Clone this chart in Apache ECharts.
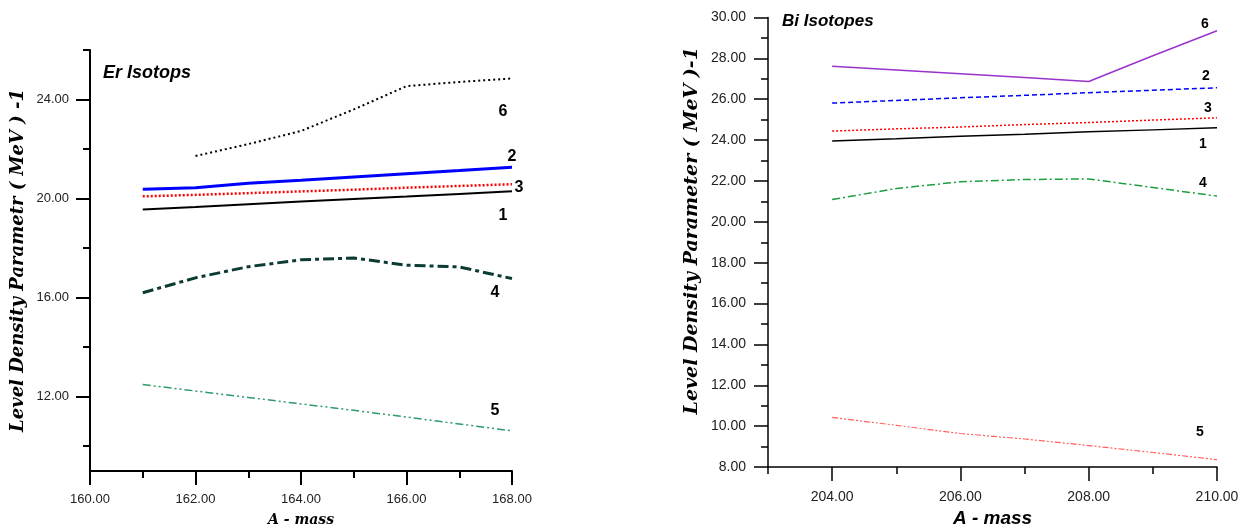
<!DOCTYPE html>
<html><head><meta charset="utf-8">
<script src="https://cdn.jsdelivr.net/npm/echarts@6/dist/echarts.min.js"></script>
<style>html,body{margin:0;padding:0;background:#fff}#c{width:1244px;height:530px}</style>
</head><body><div id="c"></div>
<script>
// ---- Er isotopes (left panel) ----
const erMass = [161, 162, 163, 164, 165, 166, 167, 168];
const er1 = [19.56, 19.66, 19.77, 19.88, 19.98, 20.08, 20.19, 20.30];
const er2 = [20.38, 20.44, 20.62, 20.74, 20.87, 21.00, 21.13, 21.27];
const er3 = [20.09, 20.15, 20.22, 20.29, 20.36, 20.44, 20.51, 20.58];
const er4 = [16.20, 16.80, 17.25, 17.53, 17.60, 17.31, 17.24, 16.77];
const er5 = [12.49, 12.23, 11.97, 11.71, 11.45, 11.18, 10.90, 10.62];
const er6 = [null, 21.72, 22.20, 22.73, 23.60, 24.54, 24.71, 24.85];
const erXLabels = [160, 162, 164, 166, 168];
const erXMinor = [161, 163, 165, 167];
const erYLabels = [12, 16, 20, 24];
const erYMinor = [10, 14, 18, 22, 26];

// ---- Bi isotopes (right panel) ----
const biMass = [204, 205, 206, 207, 208, 209, 210];
const bi1 = [23.96, 24.07, 24.19, 24.29, 24.41, 24.50, 24.60];
const bi2 = [25.81, 25.94, 26.07, 26.19, 26.32, 26.44, 26.56];
const bi3 = [24.44, 24.55, 24.64, 24.76, 24.86, 24.98, 25.09];
const bi4 = [21.09, 21.63, 21.96, 22.07, 22.10, 21.68, 21.26];
const bi5 = [10.43, 10.04, 9.64, 9.37, 9.05, 8.71, 8.36];
const bi6 = [27.62, 27.43, 27.25, 27.06, 26.87, 28.13, 29.35];
const biXLabels = [204, 206, 208, 210];
const biXMinor = [203, 205, 207, 209];
const biYLabels = [8, 10, 12, 14, 16, 18, 20, 22, 24, 26, 28, 30];
const biYMinor = [9, 11, 13, 15, 17, 19, 21, 23, 25, 27, 29];

const pairs = (xs, ys) => xs.map((x, i) => [x, ys[i]]);
const fmt2 = v => Number(v).toFixed(2);
const sans = 'Liberation Sans, Arial, sans-serif';
const serif = 'DejaVu Serif, serif';

function mkSeries(name, xs, ys, xi, yi, color, width, type, off, fs) {
  return {
    type: 'line', name: name, xAxisIndex: xi, yAxisIndex: yi,
    data: pairs(xs, ys), symbol: 'none', showSymbol: false, connectNulls: false,
    lineStyle: { color: color, width: width, type: type },
    itemStyle: { color: color },
    endLabel: {
      show: true, formatter: name, distance: 0, offset: off,
      align: 'center', verticalAlign: 'middle',
      color: '#000', fontFamily: sans, fontWeight: 'bold', fontSize: fs
    },
    z: 3
  };
}

function mainX(grid, min, max, labels, lw, fs, margin, nameFont, nameSize, gap) {
  return {
    type: 'value', gridIndex: grid, min: min, max: max, position: 'bottom',
    axisLine: { show: true, onZero: false, lineStyle: { color: '#000', width: lw } },
    axisTick: { show: true, customValues: labels, length: 14, lineStyle: { color: '#000', width: lw } },
    axisLabel: { show: true, customValues: labels, formatter: fmt2, margin: margin, fontSize: fs, color: '#222', fontFamily: sans },
    splitLine: { show: false },
    name: 'A - mass', nameLocation: 'middle', nameGap: gap,
    nameTextStyle: { fontFamily: nameFont, fontStyle: 'italic', fontWeight: 'bold', fontSize: nameSize, color: '#000' }
  };
}
function minorX(grid, min, max, ticks, lw) {
  return {
    type: 'value', gridIndex: grid, min: min, max: max, position: 'bottom',
    axisLine: { show: false, onZero: false },
    axisTick: { show: true, customValues: ticks, length: 7, lineStyle: { color: '#000', width: lw } },
    axisLabel: { show: false }, splitLine: { show: false }
  };
}
function mainY(grid, min, max, labels, lw, fs, margin, name, nameSize, gap, pad) {
  return {
    type: 'value', gridIndex: grid, min: min, max: max, position: 'left',
    axisLine: { show: true, onZero: false, lineStyle: { color: '#000', width: lw } },
    axisTick: { show: true, customValues: labels, length: 14, lineStyle: { color: '#000', width: lw } },
    axisLabel: { show: true, customValues: labels, formatter: fmt2, margin: margin, fontSize: fs, color: '#222', fontFamily: sans },
    splitLine: { show: false },
    name: name, nameLocation: 'middle', nameGap: gap,
    nameTextStyle: { fontFamily: serif, fontStyle: 'italic', fontWeight: 'bold', fontSize: nameSize, color: '#000', padding: pad }
  };
}
function minorY(grid, min, max, ticks, lw) {
  return {
    type: 'value', gridIndex: grid, min: min, max: max, position: 'left',
    axisLine: { show: false, onZero: false },
    axisTick: { show: true, customValues: ticks, length: 7, lineStyle: { color: '#000', width: lw } },
    axisLabel: { show: false }, splitLine: { show: false }
  };
}

const chart = echarts.init(document.getElementById('c'), null, { renderer: 'canvas' });
chart.setOption({
  backgroundColor: '#fff',
  animation: false,
  title: [
    { text: 'Er Isotops', left: 103, top: 64, padding: 0,
      textStyle: { fontFamily: sans, fontStyle: 'italic', fontWeight: 'bold', fontSize: 18, color: '#000' } },
    { text: 'Bi Isotopes', left: 782, top: 13, padding: 0,
      textStyle: { fontFamily: sans, fontStyle: 'italic', fontWeight: 'bold', fontSize: 17, color: '#000' } }
  ],
  grid: [
    { left: 90, right: 732, top: 50, bottom: 59, outerBoundsMode: 'none', containLabel: false },
    { left: 768, right: 27, top: 17.5, bottom: 63, outerBoundsMode: 'none', containLabel: false }
  ],
  xAxis: [
    mainX(0, 160, 168, erXLabels, 2, 13, 22, serif, 14, 42),
    minorX(0, 160, 168, erXMinor, 2),
    mainX(1, 203, 210, biXLabels, 1.5, 14, 23, sans, 19, 42),
    minorX(1, 203, 210, biXMinor, 1.5)
  ],
  yAxis: [
    mainY(0, 9, 26, erYLabels, 2, 13, 21, 'Level Density Parametr ( MeV ) -1', 18, 63, [0, 0, 0, 0]),
    minorY(0, 9, 26, erYMinor, 2),
    mainY(1, 8, 30, biYLabels, 1.5, 14, 22, 'Level Density Parameter ( MeV )-1', 19, 66, [0, 0, 0, 23]),
    minorY(1, 8, 30, biYMinor, 1.5)
  ],
  series: [
    mkSeries('6', erMass, er6, 0, 0, '#000000', 2, [2, 3], [-9, 33], 16),
    mkSeries('2', erMass, er2, 0, 0, '#0000ff', 3, 'solid', [0, -11], 16),
    mkSeries('3', erMass, er3, 0, 0, '#ff0000', 2.5, [2, 2], [7, 3], 16),
    mkSeries('1', erMass, er1, 0, 0, '#000000', 2, 'solid', [-9, 24], 16),
    mkSeries('4', erMass, er4, 0, 0, '#0b3b33', 3, [11, 4, 4, 4], [-17, 14], 16),
    mkSeries('5', erMass, er5, 0, 0, '#2e9b6b', 1.5, [8, 3, 2, 3, 2, 3], [-17, -20], 16),

    mkSeries('6', biMass, bi6, 2, 2, '#9933cc', 1.5, 'solid', [-12, -7], 14),
    mkSeries('2', biMass, bi2, 2, 2, '#0000ff', 1.5, [5, 3], [-11, -12], 14),
    mkSeries('3', biMass, bi3, 2, 2, '#ff0000', 1.5, [2, 2], [-9, -10], 14),
    mkSeries('1', biMass, bi1, 2, 2, '#000000', 1.5, 'solid', [-14, 16], 14),
    mkSeries('4', biMass, bi4, 2, 2, '#1f9e3f', 1.5, [8, 3, 2, 3], [-14, -13], 14),
    mkSeries('5', biMass, bi5, 2, 2, '#ff6060', 1.2, [6, 2, 2, 2, 2, 2], [-17, -28], 14)
  ]
});
</script>
</body></html>
